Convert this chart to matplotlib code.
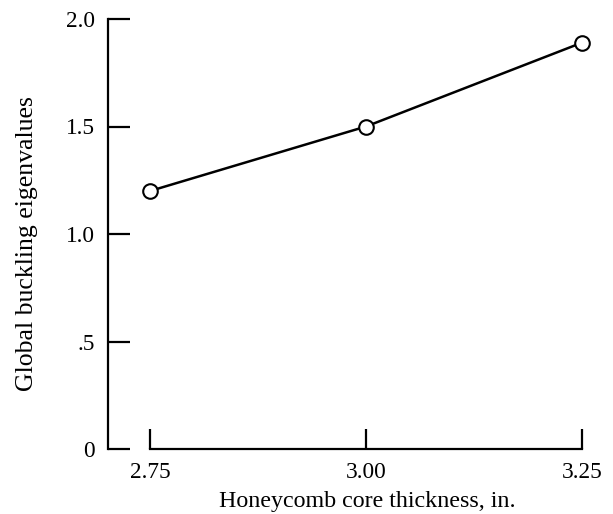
import matplotlib
matplotlib.use("Agg")
import matplotlib.pyplot as plt

thickness = [2.75, 3.00, 3.25]
eigenvalues = [1.20, 1.50, 1.89]
x_ticks = [2.75, 3.00, 3.25]
x_tick_labels = ["2.75", "3.00", "3.25"]
y_ticks = [0, 0.5, 1.0, 1.5, 2.0]
y_tick_labels = ["0", ".5", "1.0", "1.5", "2.0"]

plt.rcParams['font.family'] = ['Liberation Serif', 'DejaVu Serif']

W, H = 613, 514
fig = plt.figure(figsize=(W / 100, H / 100), dpi=100)
l, r, b, t = 108, 591, 449, 19
ax = fig.add_axes([l / W, (H - b) / H, (r - l) / W, (b - t) / H])

ax.plot(thickness, eigenvalues, color='black', lw=1.8, marker='o', ms=10.5,
        mfc='white', mec='black', mew=1.5, clip_on=False, zorder=3)

ax.set_xlim(2.75 - 42 / 864, 3.25 + 9 / 864)
ax.set_ylim(0, 2.0)
ax.spines['top'].set_visible(False)
ax.spines['right'].set_visible(False)
ax.spines['left'].set_bounds(0, 2.0)
ax.spines['bottom'].set_bounds(2.75, 3.25)
for s in ('left', 'bottom'):
    ax.spines[s].set_linewidth(1.6)

ax.set_xticks(x_ticks)
ax.set_xticklabels(x_tick_labels)
ax.set_yticks(y_ticks)
ax.set_yticklabels(y_tick_labels)
ax.tick_params(axis='y', direction='in', length=16, width=1.6, pad=9.5, labelsize=16.8)
ax.tick_params(axis='x', direction='in', length=14.4, width=1.6, pad=9, labelsize=16.8)

fig.text(367.5 / W, (H - 507) / H, "Honeycomb core thickness, in.", fontsize=17.3,
         ha='center', va='baseline')
fig.text(27 / W, (H - 243.5) / H, "Global buckling eigenvalues", fontsize=18.5,
         ha='center', va='center', rotation=90)

fig.savefig("out.png", dpi=100)
